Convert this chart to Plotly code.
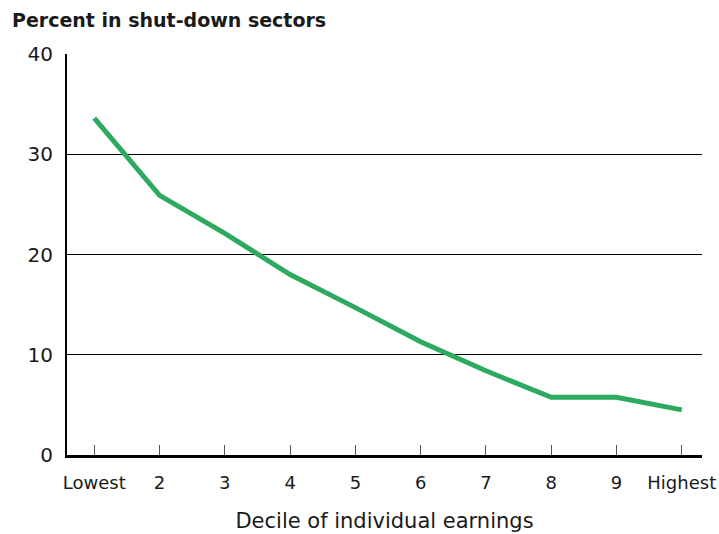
import plotly.graph_objects as go

categories = ["Lowest", "2", "3", "4", "5", "6", "7", "8", "9", "Highest"]
percent_shutdown = [33.6, 25.9, 22.1, 18.0, 14.7, 11.3, 8.4, 5.75, 5.75, 4.5]
y_ticks = [0, 10, 20, 30, 40]

FONT = "DejaVu Sans"
TEXT = "#1a1a1a"
x_pos = list(range(len(categories)))

fig = go.Figure()
fig.add_trace(go.Scatter(
    x=x_pos, y=percent_shutdown, mode="lines",
    line=dict(color="#2DAA5F", width=5),
    hoverinfo="skip", showlegend=False,
))

fig.update_layout(
    width=719, height=534,
    margin=dict(l=67, r=17, t=54, b=79, autoexpand=False),
    paper_bgcolor="white", plot_bgcolor="white",
    font=dict(family=FONT, color=TEXT),
    title=dict(text="<b>Percent in shut-down sectors</b>", x=12/719, xref="container",
               xanchor="left", y=1-20/534, yref="container", yanchor="middle",
               automargin=False,
               font=dict(family=FONT, size=19, color=TEXT)),
)

fig.update_xaxes(
    range=[-0.418, 9.31], automargin=False,
    tickmode="array", tickvals=x_pos, ticktext=categories,
    ticks="inside", ticklen=10, tickcolor="#555555", tickwidth=1,
    ticklabelstandoff=9,
    tickfont=dict(size=18, color=TEXT),
    showline=True, linecolor="black", linewidth=3,
    showgrid=False, zeroline=False,
    title=dict(text="Decile of individual earnings", font=dict(size=21, color=TEXT), standoff=22),
)
fig.update_yaxes(
    range=[0, 40], automargin=False,
    tickmode="array", tickvals=y_ticks, ticktext=[str(v) for v in y_ticks],
    ticks="", ticklabelstandoff=8,
    tickfont=dict(size=20, color=TEXT),
    showline=True, linecolor="black", linewidth=2,
    showgrid=True, gridcolor="black", gridwidth=1,
    zeroline=False,
)

fig.write_html("out.html", config={"displayModeBar": False},
               post_script="document.body.style.margin='0';")
